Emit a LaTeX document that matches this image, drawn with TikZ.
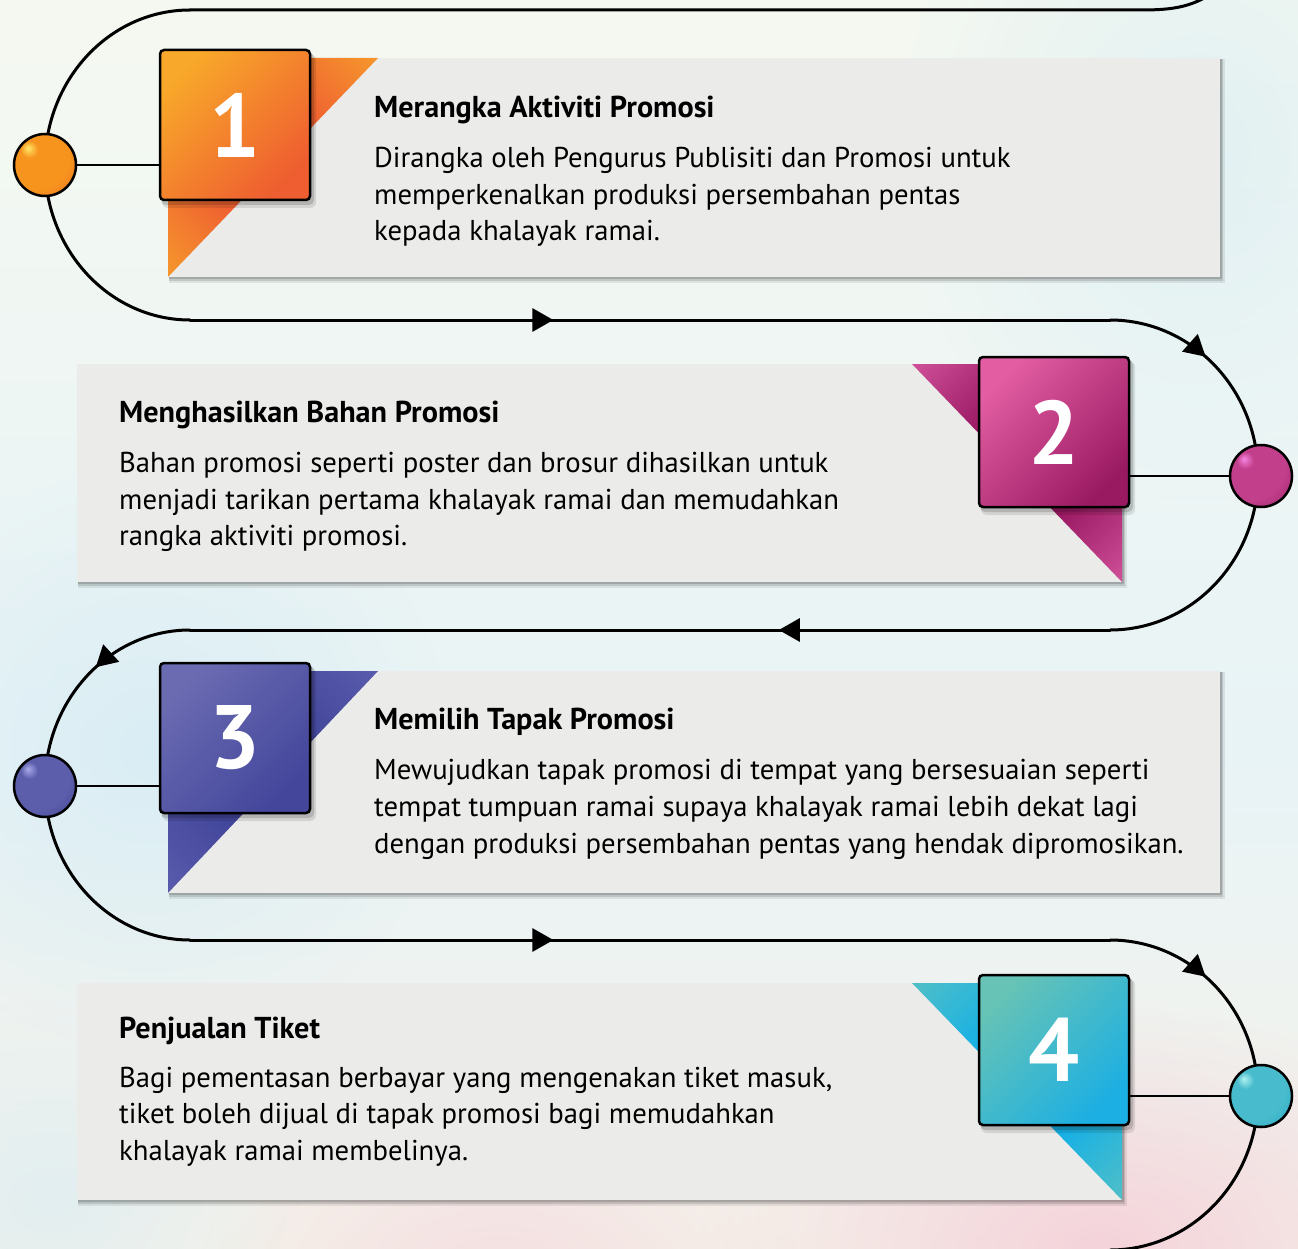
\documentclass[tikz,border=0pt]{standalone}
\usepackage{fontspec}
\setmainfont{PT Sans}
\usetikzlibrary{arrows.meta,decorations.markings,fadings}

% background colours
\definecolor{bgA}{HTML}{FCF7EC}
\definecolor{bgB}{HTML}{F3F8F2}
\definecolor{bgC}{HTML}{E8F3F6}
\definecolor{bgD}{HTML}{FAF2E6}
\definecolor{bgE}{HTML}{F6D8DE}
\definecolor{bgBlue}{HTML}{D6ECF4}
\definecolor{bgPink}{HTML}{F4CBD6}
\definecolor{cardgray}{HTML}{EBEBEA}
% orange
\definecolor{oL}{HTML}{F8A82A}\definecolor{oD}{HTML}{EE5E30}
\definecolor{otL}{HTML}{F7A22B}\definecolor{otD}{HTML}{EF6131}
\definecolor{obH}{HTML}{FFE96A}\definecolor{obB}{HTML}{F7941D}\definecolor{obD}{HTML}{E8622A}
% magenta
\definecolor{mL}{HTML}{E25DA2}\definecolor{mD}{HTML}{9A1A62}
\definecolor{mtL}{HTML}{DA5CA3}\definecolor{mtD}{HTML}{9A1A63}
\definecolor{mbH}{HTML}{F585E0}\definecolor{mbB}{HTML}{C23F8B}\definecolor{mbD}{HTML}{8D165A}
% indigo
\definecolor{iL}{HTML}{6B6BB2}\definecolor{iD}{HTML}{43469B}
\definecolor{itL}{HTML}{5E5FB0}\definecolor{itD}{HTML}{43479B}
\definecolor{ibH}{HTML}{A9A9EA}\definecolor{ibB}{HTML}{5C5DAB}\definecolor{ibD}{HTML}{383B8A}
% cyan
\definecolor{cL}{HTML}{66C3B6}\definecolor{cD}{HTML}{1CAFE3}
\definecolor{ctL}{HTML}{5CC2C0}\definecolor{ctD}{HTML}{16B0E6}
\definecolor{cbH}{HTML}{B0F2F2}\definecolor{cbB}{HTML}{48BCCC}\definecolor{cbD}{HTML}{1B9FC9}

\pgfdeclareverticalshading{bgshade}{100bp}{color(0bp)=(bgE); color(18bp)=(bgD); color(45bp)=(bgC); color(70bp)=(bgB); color(100bp)=(bgA)}
\pgfdeclareverticalshading{triO}{100bp}{color(0bp)=(otL); color(10bp)=(otL); color(36bp)=(otD); color(64bp)=(otD); color(90bp)=(otL); color(100bp)=(otL)}
\pgfdeclareverticalshading{triM}{100bp}{color(0bp)=(mtL); color(10bp)=(mtL); color(36bp)=(mtD); color(64bp)=(mtD); color(90bp)=(mtL); color(100bp)=(mtL)}
\pgfdeclareverticalshading{triI}{100bp}{color(0bp)=(itL); color(10bp)=(itL); color(36bp)=(itD); color(64bp)=(itD); color(90bp)=(itL); color(100bp)=(itL)}
\pgfdeclareverticalshading{triC}{100bp}{color(0bp)=(ctL); color(10bp)=(ctL); color(36bp)=(ctD); color(64bp)=(ctD); color(90bp)=(ctL); color(100bp)=(ctL)}
\pgfdeclareradialshading{ballO}{\pgfpoint{-14bp}{14bp}}{color(0bp)=(obH); color(7bp)=(obB); color(28bp)=(obB); color(50bp)=(obD); color(70bp)=(obD)}
\pgfdeclareradialshading{ballM}{\pgfpoint{-14bp}{14bp}}{color(0bp)=(mbH); color(7bp)=(mbB); color(28bp)=(mbB); color(50bp)=(mbD); color(70bp)=(mbD)}
\pgfdeclareradialshading{ballI}{\pgfpoint{-14bp}{14bp}}{color(0bp)=(ibH); color(7bp)=(ibB); color(28bp)=(ibB); color(50bp)=(ibD); color(70bp)=(ibD)}
\pgfdeclareradialshading{ballC}{\pgfpoint{-14bp}{14bp}}{color(0bp)=(cbH); color(7bp)=(cbB); color(28bp)=(cbB); color(50bp)=(cbD); color(70bp)=(cbD)}
\tikzfading[name=blobfade, inner color=transparent!0, outer color=transparent!100]

\tikzset{
  track/.style={line width=3pt, line cap=round, black},
  arrowat/.style={postaction={decorate}, decoration={markings, mark=at position #1 with {\arrow{Triangle[length=21pt,width=23pt]}}}},
  conn/.style={line width=2.6pt, black},
  card/.style={fill=cardgray},
  numbox/.style={draw=black, line width=2.5pt, rounded corners=4pt, minimum width=150pt, minimum height=150pt, inner sep=0pt, text=white, font=\bfseries\fontsize{90}{90}\selectfont},
  ballnode/.style={circle, draw=black, line width=2.5pt, minimum size=62pt, inner sep=0pt},
  ttl/.style={anchor=base west, inner sep=0pt, font=\bfseries\fontsize{30.2}{34}\selectfont},
  txt/.style={anchor=base west, inner sep=0pt, font=\fontsize{28.7}{34}\selectfont},
  blob/.style={path fading=blobfade, fit fading=true},
}

\begin{document}
\begin{tikzpicture}[x=1pt, y=-1pt]
\useasboundingbox (0,0) rectangle (1298,1249);
\begin{scope}
\clip (0,0) rectangle (1298,1249);
% background
\shade[shading=bgshade] (0,0) rectangle (1298,1249);
\fill[bgBlue, blob, opacity=0.8] (-150,450) rectangle (450,1050);
\fill[bgBlue, blob, opacity=0.6] (900,-200) rectangle (1500,500);
\fill[bgPink, blob, opacity=0.8] (700,1000) rectangle (1500,1500);
\fill[bgPink, blob, opacity=0.5] (200,1100) rectangle (800,1450);
\fill[bgBlue, blob, opacity=0.6] (-200,1000) rectangle (300,1400);

% track
\draw[track] (1232,-22) .. controls (1200,6) and (1180,10) .. (1140,10) -- (190,10);
\draw[track] (190,10) arc[start angle=270, end angle=90, x radius=145, y radius=155];
\draw[track, arrowat=0.395] (190,320) -- (1110,320);
\draw[track, arrowat=0.22] (1110,320) arc[start angle=270, end angle=450, x radius=148, y radius=155];
\draw[track, arrowat=0.36] (1110,630) -- (190,630);
\draw[track, arrowat=0.22] (190,630) arc[start angle=270, end angle=90, x radius=145, y radius=155];
\draw[track, arrowat=0.395] (190,940) -- (1110,940);
\draw[track, arrowat=0.22] (1110,940) arc[start angle=270, end angle=450, x radius=148, y radius=155];
\draw[track] (1110,1250) -- (900,1250);
\end{scope}

% card shadows
\foreach \a/\b/\c/\d in {168/58/1220/277, 77/364/1122/582, 168/671/1220/893, 77/983/1122/1200}{
  \fill[black, opacity=0.08] (\a+1,\b+1) rectangle (\c+5,\d+6);
  \fill[black, opacity=0.12] (\a+1,\b+1) rectangle (\c+3,\d+4);
  \fill[black, opacity=0.15] (\a+1,\b+1) rectangle (\c+1.5,\d+2);
}
% cards
\fill[card] (168,58) rectangle (1220,277);
\fill[card] (77,364) rectangle (1122,582);
\fill[card] (168,671) rectangle (1220,893);
\fill[card] (77,983) rectangle (1122,1200);
% triangles
\shade[shading=triO, shading angle=-45] (168,58) -- (378,58) -- (168,277) -- cycle;
\shade[shading=triM, shading angle=45] (1122,364) -- (912,364) -- (1122,582) -- cycle;
\shade[shading=triI, shading angle=-45] (168,671) -- (378,671) -- (168,893) -- cycle;
\shade[shading=triC, shading angle=45] (1122,983) -- (912,983) -- (1122,1200) -- cycle;

% box shadows
\foreach \x/\y in {235/125, 1054/432, 235/738, 1054/1050}{
  \fill[black, opacity=0.10, rounded corners=6pt] (\x-73,\y-71) rectangle (\x+81,\y+83);
  \fill[black, opacity=0.15, rounded corners=5pt] (\x-74,\y-72) rectangle (\x+79,\y+80);
}

% balls
\node[ballnode, shading=ballO] (b1) at (45,165) {};
\node[ballnode, shading=ballM] (b2) at (1261,476) {};
\node[ballnode, shading=ballI] (b3) at (45,786) {};
\node[ballnode, shading=ballC] (b4) at (1261,1096) {};

% number boxes
\node[numbox, top color=oL, bottom color=oD, shading angle=45] (n1) at (235,125) {1};
\node[numbox, top color=mL, bottom color=mD, shading angle=45] (n2) at (1054,432) {2};
\node[numbox, top color=iL, bottom color=iD, shading angle=45] (n3) at (235,738) {3};
\node[numbox, top color=cL, bottom color=cD, shading angle=45] (n4) at (1054,1050) {4};

% connectors ball -- box
\draw[conn] (b1.east) -- (b1.east -| n1.west);
\draw[conn] (b2.west) -- (b2.west -| n2.east);
\draw[conn] (b3.east) -- (b3.east -| n3.west);
\draw[conn] (b4.west) -- (b4.west -| n4.east);

% texts
\node[ttl] (t1) at (374,118) {Merangka Aktiviti Promosi};
\node[txt] (d1a) at (374,168) {Dirangka oleh Pengurus Publisiti dan Promosi untuk};
\node[txt] (d1b) at (374,205) {memperkenalkan produksi persembahan pentas};
\node[txt] (d1c) at (374,241) {kepada khalayak ramai.};

\node[ttl] (t2) at (119,422) {Menghasilkan Bahan Promosi};
\node[txt] (d2a) at (119,472) {Bahan promosi seperti poster dan brosur dihasilkan untuk};
\node[txt] (d2b) at (119,509) {menjadi tarikan pertama khalayak ramai dan memudahkan};
\node[txt] (d2c) at (119,545) {rangka aktiviti promosi.};

\node[ttl] (t3) at (374,729) {Memilih Tapak Promosi};
\node[txt] (d3a) at (374,779) {Mewujudkan tapak promosi di tempat yang bersesuaian seperti};
\node[txt] (d3b) at (374,816) {tempat tumpuan ramai supaya khalayak ramai lebih dekat lagi};
\node[txt] (d3c) at (374,853) {dengan produksi persembahan pentas yang hendak dipromosikan.};

\node[ttl] (t4) at (119,1038) {Penjualan Tiket};
\node[txt] (d4a) at (119,1087) {Bagi pementasan berbayar yang mengenakan tiket masuk,};
\node[txt] (d4b) at (119,1123) {tiket boleh dijual di tapak promosi bagi memudahkan};
\node[txt] (d4c) at (119,1160) {khalayak ramai membelinya.};
\end{tikzpicture}
\end{document}
